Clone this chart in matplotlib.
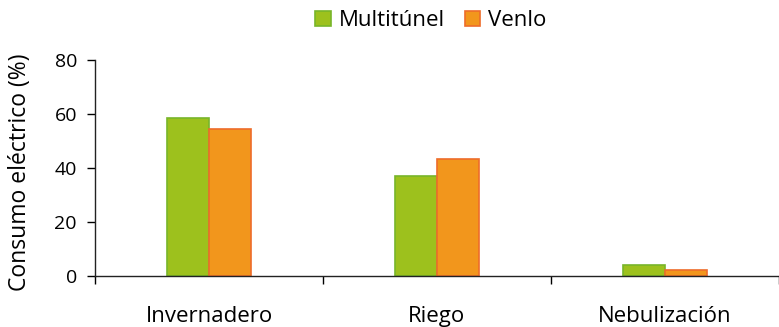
import matplotlib
matplotlib.use("Agg")
import matplotlib.pyplot as plt
import numpy as np

plt.rcParams['font.family'] = ['Open Sans', 'DejaVu Sans']

categories = ["Invernadero", "Riego", "Nebulización"]
series_names = ["Multitúnel", "Venlo"]
multitunel = [58.5, 37.1, 4.1]
venlo = [54.4, 43.4, 2.2]
yticks = [0, 20, 40, 60, 80]

fill_colors = ["#9dc11d", "#f2961c"]
edge_colors = ["#78b52a", "#ee6c2a"]

fig = plt.figure(figsize=(7.79, 3.27), dpi=100)
ax = fig.add_axes([95 / 779, 1 - 276 / 327, 1 - 95 / 779, 216 / 327])

x = np.arange(len(categories))
w = 0.184
for i, (vals, name) in enumerate(zip([multitunel, venlo], series_names)):
    offset = (i - 0.5) * w
    ax.bar(x + offset, vals, width=w, color=fill_colors[i], edgecolor=edge_colors[i],
           linewidth=1.2, label=name, zorder=2)

ax.set_xlim(-0.5, len(categories) - 0.5)
ax.set_ylim(0, 80)
ax.set_yticks(yticks)
ax.set_yticklabels([str(v) for v in yticks], fontsize=14)

# category labels centred, ticks on the boundaries
ax.set_xticks(x)
ax.set_xticklabels(categories, fontsize=16)
ax.tick_params(axis='x', which='major', length=0, pad=21.5)
ax.set_xticks(np.arange(len(categories) + 1) - 0.5, minor=True)
ax.tick_params(axis='x', which='minor', length=6, width=1, direction='out')
ax.tick_params(axis='y', length=6, width=1, direction='out', pad=7)

for s in ["top", "right"]:
    ax.spines[s].set_visible(False)
for s in ["left", "bottom"]:
    ax.spines[s].set_linewidth(1)
    ax.spines[s].set_color("#222222")

fig.text(20 / 779, 1 - 172 / 327, "Consumo eléctrico (%)", rotation=90,
         ha="center", va="center", fontsize=16.5)

fig.legend(loc="center", bbox_to_anchor=(0.553, 1 - 21 / 327), ncol=2, frameon=False,
           fontsize=16, handlelength=0.68, handleheight=0.68, handletextpad=0.36,
           columnspacing=0.9, borderpad=0)

fig.savefig("out.png", dpi=100)
